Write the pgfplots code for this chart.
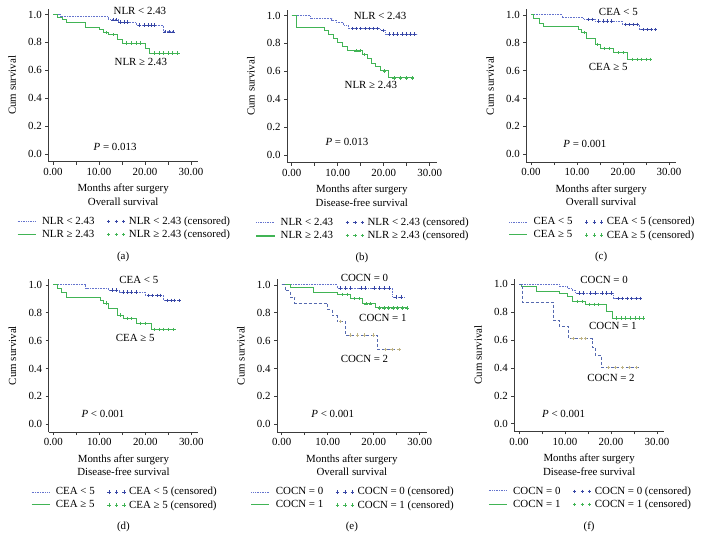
\documentclass[border=0pt]{standalone}
\usepackage{pgfplots}
\pgfplotsset{compat=1.18}
\usepackage{fontspec}
\setmainfont{Liberation Serif}
\definecolor{kmblue}{RGB}{100,115,205}
\definecolor{kmdblue}{RGB}{55,70,165}
\definecolor{kmgreen}{RGB}{65,180,85}
\definecolor{kmslate}{RGB}{85,105,175}
\definecolor{kmbeige}{RGB}{190,180,135}
\definecolor{axgray}{RGB}{60,60,60}
\newcommand{\fs}{\fontsize{10.9}{13.5}\selectfont}
\pgfplotsset{
 km/.style={
  scale only axis, width=149.5pt, height=152.8pt,
  xmin=-1, xmax=31.5, ymin=-0.055, ymax=1.04,
  axis x line*=bottom, axis y line*=left,
  axis line style={line width=0.6pt, axgray},
  xtick={0,5,10,15,20,25,30}, xticklabels={0.00,,10.00,,20.00,,30.00},
  ytick={0,0.2,0.4,0.6,0.8,1}, yticklabels={0.0,0.2,0.4,0.6,0.8,1.0},
  tick align=outside, major tick length=3pt, tick style={axgray, line width=0.5pt},
  ticklabel style={font=\fs},
  ylabel={Cum survival},
  ylabel style={at={(rel axis cs:-0.243,0.5)}, anchor=center, font=\fs},
  xlabel style={at={(rel axis cs:0.5,0)}, anchor=north, yshift=-19pt, align=center, font=\fs},
  clip=false,
  legend columns=2,
  legend cell align=left,
  legend style={at={(0.51,-0.335)}, anchor=north, draw=none, fill=none, font=\fs,
    /tikz/every even column/.append style={column sep=9pt}},
 },
 lblue/.style={const plot, color=kmblue, densely dotted, line width=0.6pt, mark=none,
   legend image code/.code={\draw[draw=kmblue, densely dotted, line width=0.7pt] (0pt,0pt) -- (18pt,0pt); \path (22pt,0pt);}},
 lblueS/.style={lblue,
   legend image code/.code={\draw[draw=kmblue, densely dotted, line width=0.7pt] (0pt,0.5pt) -- (18pt,0.5pt); \path (22pt,0pt);}},
 lgreen/.style={const plot, color=kmgreen, solid, line width=0.8pt, mark=none,
   legend image code/.code={\draw[draw=kmgreen, solid, line width=0.9pt] (0pt,0pt) -- (18pt,0pt); \path (22pt,0pt);}},
 lgreenS/.style={lgreen,
   legend image code/.code={\draw[draw=kmgreen, solid, line width=0.9pt] (0pt,0.5pt) -- (18pt,0.5pt); \path (22pt,0pt);}},
 lgreenF/.style={lgreen,
   legend image code/.code={\fill[kmgreen] (0pt,-0.45pt) rectangle (18pt,0.45pt); \path (22pt,0pt);}},
 lslate/.style={const plot, color=kmslate, dash pattern=on 3pt off 2pt, line width=0.6pt, mark=none},
 cens/.style={only marks, mark=+, mark size=1.7pt, color=#1, mark options={draw=#1, line width=0.5pt, solid},
   legend image code/.code={\draw[draw=#1, line width=0.5pt] plot[only marks, mark=+, mark size=1.7pt] coordinates {(2pt,0pt) (9.5pt,0pt) (17pt,0pt)}; \path (-1pt,0pt) (20pt,0pt);}},
}
\begin{document}
\begin{tikzpicture}[x=1pt,y=1pt]
\useasboundingbox (0,0) rectangle (704,550);

% ---------------- (a)
\begin{axis}[km, at={(48.4pt,388.3pt)}, anchor=south west,
  xlabel={Months after surgery\\Overall survival}]
\addplot[lblue] coordinates {(0,1)(1.5,0.986)(12,0.962)(14.2,0.946)(18,0.924)(24,0.876)(26.3,0.876)};
\addlegendentry{NLR < 2.43}
\addplot[cens=kmdblue] coordinates {(13,0.962)(13.8,0.962)(14.6,0.946)(15.4,0.946)(16.1,0.946)(18.8,0.924)(19.9,0.924)(20.6,0.924)(21.3,0.924)(22.1,0.924)(24.3,0.876)(25.2,0.876)(26.1,0.876)};
\addlegendentry{NLR < 2.43 (censored)}
\addplot[lgreen] coordinates {(0,1)(1,0.98)(2,0.965)(3,0.945)(7,0.91)(10,0.89)(11,0.87)(12,0.855)(14,0.82)(15,0.795)(20,0.76)(21,0.724)(27.5,0.724)};
\addlegendentry{NLR ≥ 2.43}
\addplot[cens=kmgreen] coordinates {(11.5,0.87)(13,0.855)(16,0.795)(17,0.795)(18,0.795)(19,0.795)(22,0.724)(23,0.724)(24,0.724)(25,0.724)(26,0.724)(27,0.724)};
\addlegendentry{NLR ≥ 2.43 (censored)}
\node[font=\fs] at (axis cs:18.9,1.027) {NLR < 2.43};
\node[font=\fs] at (axis cs:19.1,0.663) {NLR ≥ 2.43};
\node[font=\fs] at (axis cs:13.5,0.05) {\textit{P} = 0.013};
\node[font=\fs] at (rel axis cs:0.5,-0.624) {(a)};
\end{axis}

% ---------------- (b)
\begin{axis}[km, at={(287.1pt,387.3pt)}, anchor=south west,
  xlabel={Months after surgery\\Disease-free survival}]
\addplot[lblue] coordinates {(0,1)(4,0.977)(8.7,0.965)(9.8,0.95)(11.3,0.93)(12.3,0.906)(19.3,0.893)(20.4,0.868)(27.3,0.868)};
\addlegendentry{NLR < 2.43}
\addplot[cens=kmdblue] coordinates {(13.2,0.906)(14.1,0.906)(15.0,0.906)(16.0,0.906)(16.9,0.906)(17.8,0.906)(18.7,0.906)(19.8,0.893)(21.2,0.868)(22.1,0.868)(23.0,0.868)(24.0,0.868)(24.9,0.868)(25.8,0.868)(26.7,0.868)};
\addlegendentry{NLR < 2.43 (censored)}
\addplot[lgreenF] coordinates {(0,1)(1,0.917)(7,0.89)(8,0.863)(9,0.835)(10,0.808)(11,0.775)(12,0.747)(15.3,0.72)(16.4,0.69)(17.3,0.66)(18.2,0.632)(19.3,0.603)(21,0.553)(26.5,0.553)};
\addlegendentry{NLR ≥ 2.43}
\addplot[cens=kmgreen] coordinates {(14,0.747)(14.8,0.747)(15.8,0.72)(20.2,0.603)(22.2,0.553)(23.7,0.553)(24.9,0.553)(26.2,0.553)};
\addlegendentry{NLR ≥ 2.43 (censored)}
\node[font=\fs] at (axis cs:19.2,0.995) {NLR < 2.43};
\node[font=\fs] at (axis cs:17.2,0.50) {NLR ≥ 2.43};
\node[font=\fs] at (axis cs:12.0,0.095) {\textit{P} = 0.013};
\node[font=\fs] at (rel axis cs:0.5,-0.624) {(b)};
\end{axis}

% ---------------- (c)
\begin{axis}[km, at={(526.4pt,388pt)}, anchor=south west,
  xlabel={Months after surgery\\Overall survival}]
\addplot[lblue] coordinates {(0,1)(6.8,0.979)(11.4,0.967)(14,0.955)(19.8,0.932)(23.6,0.893)(27.2,0.893)};
\addlegendentry{CEA < 5}
\addplot[cens=kmdblue] coordinates {(12.5,0.967)(13.4,0.967)(14.7,0.955)(15.7,0.955)(16.6,0.955)(17.5,0.955)(20.5,0.932)(21.3,0.932)(22.2,0.932)(23.0,0.932)(24.3,0.893)(25.2,0.893)(26.1,0.893)(27.0,0.893)};
\addlegendentry{CEA < 5 (censored)}
\addplot[lgreenS] coordinates {(0,1)(0.6,0.973)(1.8,0.937)(2.8,0.916)(10.2,0.894)(11,0.872)(12,0.829)(14,0.786)(15,0.759)(18,0.728)(21,0.68)(26.3,0.68)};
\addlegendentry{CEA ≥ 5}
\addplot[cens=kmgreen] coordinates {(11.5,0.872)(14.5,0.786)(16,0.759)(17,0.759)(19,0.728)(20,0.728)(22,0.68)(23,0.68)(24,0.68)(25,0.68)(26,0.68)};
\addlegendentry{CEA ≥ 5 (censored)}
\node[font=\fs] at (axis cs:19.0,1.021) {CEA < 5};
\node[font=\fs] at (axis cs:16.8,0.628) {CEA ≥ 5};
\node[font=\fs] at (axis cs:11.7,0.074) {\textit{P} = 0.001};
\node[font=\fs] at (rel axis cs:0.5,-0.624) {(c)};
\end{axis}

% ---------------- (d)
\begin{axis}[km, at={(48.7pt,118pt)}, anchor=south west,
  xlabel={Months after surgery\\Disease-free survival}]
\addplot[lblue] coordinates {(0,1)(7,0.976)(12,0.963)(14.4,0.947)(20,0.925)(24,0.888)(27.5,0.888)};
\addlegendentry{CEA < 5}
\addplot[cens=kmdblue] coordinates {(12.8,0.963)(13.7,0.963)(15.2,0.947)(16.1,0.947)(17.0,0.947)(18.0,0.947)(20.7,0.925)(21.6,0.925)(22.5,0.925)(23.3,0.925)(24.7,0.888)(25.6,0.888)(26.4,0.888)(27.3,0.888)};
\addlegendentry{CEA < 5 (censored)}
\addplot[lgreenS] coordinates {(0,1)(0.9,0.976)(1.8,0.947)(2.9,0.913)(10.2,0.889)(10.9,0.87)(12,0.829)(14,0.783)(15.2,0.759)(18.1,0.723)(21.3,0.68)(26.6,0.68)};
\addlegendentry{CEA ≥ 5}
\addplot[cens=kmgreen] coordinates {(11.5,0.87)(14.6,0.783)(16,0.759)(17,0.759)(19,0.723)(20,0.723)(22,0.68)(23,0.68)(24,0.68)(25,0.68)(26,0.68)};
\addlegendentry{CEA ≥ 5 (censored)}
\node[font=\fs] at (axis cs:18.6,1.038) {CEA < 5};
\node[font=\fs] at (axis cs:17.8,0.617) {CEA ≥ 5};
\node[font=\fs] at (axis cs:10.8,0.072) {\textit{P} < 0.001};
\node[font=\fs] at (rel axis cs:0.5,-0.624) {(d)};
\end{axis}

% ---------------- (e)
\begin{axis}[km, at={(277.1pt,118pt)}, anchor=south west,
  xlabel={Months after surgery\\Overall survival}]
\addplot[lblue] coordinates {(0,1)(12,0.976)(24.1,0.913)(26.6,0.913)};
\addlegendentry{COCN = 0}
\addplot[cens=kmdblue] coordinates {(12.8,0.976)(13.9,0.976)(15.0,0.976)(17.2,0.976)(18.2,0.976)(20.1,0.976)(21.2,0.976)(22.3,0.976)(23.4,0.976)(24.8,0.913)(25.9,0.913)};
\addlegendentry{COCN = 0 (censored)}
\addplot[lgreenS] coordinates {(0,1)(1.8,0.98)(6.9,0.944)(12,0.93)(14.9,0.9)(17.5,0.864)(20.3,0.835)(27.5,0.835)};
\addlegendentry{COCN = 1}
\addplot[cens=kmgreen] coordinates {(13.1,0.93)(14.2,0.93)(15.8,0.9)(16.8,0.9)(18.3,0.864)(19.3,0.864)(21.2,0.835)(22.2,0.835)(23.2,0.835)(24.2,0.835)(25.2,0.835)(26.2,0.835)(27.2,0.835)};
\addlegendentry{COCN = 1 (censored)}
\addplot[lslate, forget plot] coordinates {(0,1)(0.7,0.957)(1.8,0.913)(2.8,0.87)(9.9,0.826)(10.9,0.783)(12,0.739)(13.8,0.64)(20.8,0.535)(26,0.535)};
\addplot[cens=kmbeige, forget plot] coordinates {(12.8,0.739)(15,0.64)(16.5,0.64)(18,0.64)(20,0.64)(22.5,0.535)(24,0.535)(25.5,0.535)};
\node[font=\fs] at (axis cs:18.0,1.052) {COCN = 0};
\node[font=\fs] at (axis cs:22.0,0.761) {COCN = 1};
\node[font=\fs] at (axis cs:18.0,0.469) {COCN = 2};
\node[font=\fs] at (axis cs:11.1,0.072) {\textit{P} < 0.001};
\node[font=\fs] at (rel axis cs:0.5,-0.624) {(e)};
\end{axis}

% ---------------- (f)
\begin{axis}[km, at={(514.4pt,118.6pt)}, anchor=south west,
  xlabel={Months after surgery\\Disease-free survival}]
\addplot[lblueS] coordinates {(0,1)(8.7,0.985)(10.5,0.97)(11.5,0.955)(12.3,0.938)(20.6,0.898)(26.5,0.898)};
\addlegendentry{COCN = 0}
\addplot[cens=kmdblue] coordinates {(13.0,0.938)(14.0,0.938)(15.5,0.938)(16.5,0.938)(18.0,0.938)(19.0,0.938)(20.0,0.938)(21.5,0.898)(22.5,0.898)(23.5,0.898)(24.5,0.898)(25.5,0.898)(26.4,0.898)};
\addlegendentry{COCN = 0 (censored)}
\addplot[lgreen] coordinates {(0,1)(0.6,0.981)(3.8,0.95)(8.8,0.932)(10.6,0.91)(11.7,0.878)(14.4,0.856)(18.9,0.804)(20.3,0.758)(27.2,0.758)};
\addlegendentry{COCN = 1}
\addplot[cens=kmgreen] coordinates {(12.7,0.878)(13.7,0.878)(15.3,0.856)(16.3,0.856)(17.3,0.856)(21.2,0.758)(22.2,0.758)(23.2,0.758)(24.2,0.758)(25.2,0.758)(26.2,0.758)(27.0,0.758)};
\addlegendentry{COCN = 1 (censored)}
\addplot[lslate, forget plot] coordinates {(0,1)(0.8,0.87)(7.5,0.74)(8.7,0.70)(10.8,0.61)(15.9,0.55)(16.6,0.49)(17.9,0.405)(26,0.405)};
\addplot[cens=kmbeige, forget plot] coordinates {(11.7,0.61)(13.5,0.61)(14.5,0.61)(19.5,0.405)(21,0.405)(22.5,0.405)(24,0.405)(25.5,0.405)};
\node[font=\fs] at (axis cs:18.5,1.034) {COCN = 0};
\node[font=\fs] at (axis cs:20.4,0.698) {COCN = 1};
\node[font=\fs] at (axis cs:20.0,0.331) {COCN = 2};
\node[font=\fs] at (axis cs:9.7,0.068) {\textit{P} < 0.001};
\node[font=\fs] at (rel axis cs:0.5,-0.624) {(f)};
\end{axis}
\end{tikzpicture}
\end{document}
